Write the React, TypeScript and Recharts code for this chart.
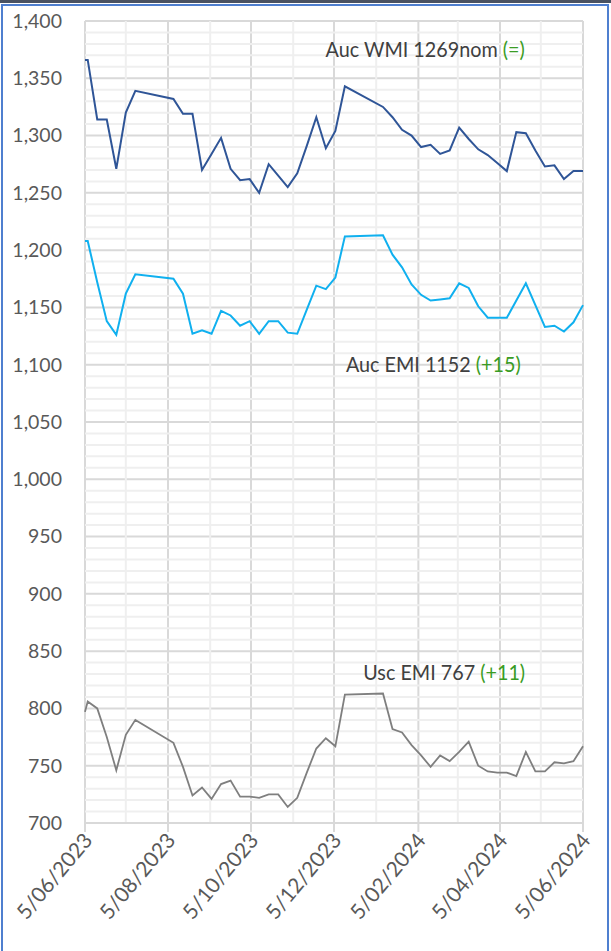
import React from "react";
import {
  LineChart,
  Line,
  XAxis,
  YAxis,
  CartesianGrid,
  ReferenceLine,
  ReferenceDot,
} from "recharts";

// sale dates (weekly auctions, with the winter and xmas recess)
const saleDates = [
  "2023-06-05", "2023-06-07", "2023-06-14", "2023-06-21", "2023-06-28", "2023-07-05", "2023-07-12",
  "2023-08-09", "2023-08-16", "2023-08-23", "2023-08-30", "2023-09-06", "2023-09-13", "2023-09-20",
  "2023-09-27", "2023-10-04", "2023-10-11", "2023-10-18", "2023-10-25", "2023-11-01", "2023-11-08",
  "2023-11-15", "2023-11-22", "2023-11-29", "2023-12-06", "2023-12-13",
  "2024-01-10", "2024-01-17", "2024-01-24", "2024-01-31", "2024-02-07", "2024-02-14", "2024-02-21",
  "2024-02-28", "2024-03-06", "2024-03-13", "2024-03-20", "2024-03-27", "2024-04-03", "2024-04-10",
  "2024-04-17", "2024-04-24", "2024-05-01", "2024-05-08", "2024-05-15", "2024-05-22", "2024-05-29",
  "2024-06-05",
];

const aucWMI = [
  1366, 1366, 1314, 1314, 1271, 1320, 1339,
  1332, 1319, 1319, 1270, 1284, 1298, 1271, 1261, 1262, 1250, 1275, 1265, 1255, 1267, 1291, 1316, 1289, 1304, 1343,
  1325, 1316, 1305, 1300, 1290, 1292, 1284, 1287, 1307, 1297, 1288, 1283, 1276, 1269, 1303, 1302, 1287, 1273, 1274, 1262, 1269, 1269,
];

const aucEMI = [
  1208, 1208, 1172, 1138, 1126, 1162, 1179,
  1175, 1162, 1127, 1130, 1127, 1147, 1143, 1134, 1138, 1127, 1138, 1138, 1128, 1127, 1148, 1169, 1166, 1176, 1212,
  1213, 1196, 1185, 1170, 1161, 1156, 1157, 1158, 1171, 1167, 1151, 1141, 1141, 1141, 1156, 1171, 1152, 1133, 1134, 1129, 1137, 1152,
];

const uscEMI = [
  797, 806, 800, 775, 746, 777, 790,
  770, 749, 724, 731, 721, 734, 737, 723, 723, 722, 725, 725, 714, 722, 744, 765, 774, 767, 812,
  813, 782, 779, 768, 759, 749, 759, 754, 762, 771, 750, 745, 744, 744, 741, 762, 745, 745, 753, 752, 754, 767,
];

const majorTickDates = ["2023-06-05", "2023-08-05", "2023-10-05", "2023-12-05", "2024-02-05", "2024-04-05", "2024-06-05"];
const majorTickLabels = ["5/06/2023", "5/08/2023", "5/10/2023", "5/12/2023", "5/02/2024", "5/04/2024", "5/06/2024"];
const minorTickDates = ["2023-07-05", "2023-09-05", "2023-11-05", "2024-01-05", "2024-03-05", "2024-05-05"];

const yTicks = [700, 750, 800, 850, 900, 950, 1000, 1050, 1100, 1150, 1200, 1250, 1300, 1350, 1400];

const FONT = "Lato, 'Open Sans', sans-serif";
const GREEN = "#3a9c24";

const toDay = (s: string) =>
  (Date.UTC(+s.slice(0, 4), +s.slice(5, 7) - 1, +s.slice(8, 10)) - Date.UTC(2023, 5, 5)) / 86400000;

const data = saleDates.map((d, i) => ({
  day: toDay(d),
  wmi: aucWMI[i],
  emi: aucEMI[i],
  usc: uscEMI[i],
}));

const xTicks = majorTickDates.map(toDay);
const xMinor = minorTickDates.map(toDay);
const yMinor: number[] = [];
yTicks.slice(0, -1).forEach((t) => {
  for (let k = 10; k < 50; k += 10) yMinor.push(t + k);
});

const DateTick = (props: any) => {
  const { x, y, payload } = props;
  const idx = xTicks.indexOf(payload.value);
  return (
    <g transform={`translate(${x + 4},${y + 3})`}>
      <text
        x={0}
        y={0}
        dy={6}
        textAnchor="end"
        transform="rotate(-50)"
        fill="#595959"
        fontSize={21}
        fontFamily={FONT}
      >
        {majorTickLabels[idx]}
      </text>
    </g>
  );
};

const annot = (main: string, change: string) => (props: any) => {
  const { viewBox } = props;
  const cx = viewBox.x + (viewBox.width || 0) / 2;
  const cy = viewBox.y + (viewBox.height || 0) / 2;
  return (
    <g transform={`translate(${cx},${cy}) scale(0.92,1)`}>
      <text x={0} y={0} dy={7} textAnchor="middle" fontSize={21.5} fontFamily={FONT} fill="#404040">
        {main} <tspan fill={GREEN}>{change}</tspan>
      </text>
    </g>
  );
};

export default function App() {
  return (
    <div
      style={{
        position: "absolute",
        left: 0,
        top: 0,
        width: 611,
        height: 951,
        overflow: "hidden",
        background: "#fff",
      }}
    >
      <div style={{ position: "absolute", left: 0, top: 0, width: 611, height: 3, background: "#4a5261" }} />
      <div
        style={{
          position: "absolute",
          left: 1,
          top: 4,
          width: 604,
          height: 960,
          border: "2px solid #4f7fcf",
        }}
      />
      <div style={{ position: "absolute", left: 0, top: 0 }}>
        <LineChart width={611} height={951} data={data} margin={{ top: 21, right: 28, bottom: 0, left: 0 }}>
          {xMinor.map((v) => (
            <ReferenceLine key={"vx" + v} x={v} stroke="#efefef" strokeWidth={2} />
          ))}
          {yMinor.map((v) => (
            <ReferenceLine key={"hy" + v} y={v} stroke="#efefef" strokeWidth={2} />
          ))}
          <CartesianGrid stroke="#d9d9d9" strokeWidth={2} />
          <XAxis
            dataKey="day"
            type="number"
            domain={[0, 366]}
            ticks={xTicks}
            interval={0}
            height={128}
            tick={<DateTick />}
            tickSize={9}
            tickMargin={2}
            tickLine={{ stroke: "#d9d9d9", strokeWidth: 2 }}
            axisLine={{ stroke: "#d9d9d9", strokeWidth: 2 }}
          />
          <YAxis
            type="number"
            domain={[700, 1400]}
            ticks={yTicks}
            interval={0}
            width={85}
            tickSize={0}
            tickMargin={23}
            axisLine={false}
            tickLine={false}
            tickFormatter={(v: number) => v.toLocaleString("en-US")}
            tick={{ fill: "#595959", fontSize: 19.5, fontFamily: FONT }}
          />
          <Line
            type="linear"
            dataKey="wmi"
            stroke="#2f5597"
            strokeWidth={2}
            dot={false}
            isAnimationActive={false}
          />
          <Line
            type="linear"
            dataKey="emi"
            stroke="#10b0ef"
            strokeWidth={2}
            dot={false}
            isAnimationActive={false}
          />
          <Line
            type="linear"
            dataKey="usc"
            stroke="#7f7f7f"
            strokeWidth={1.8}
            dot={false}
            isAnimationActive={false}
          />
          <ReferenceDot x={250} y={1375} r={0} fill="none" stroke="none" label={annot("Auc WMI 1269nom", "(=)")} />
          <ReferenceDot x={256} y={1100} r={0} fill="none" stroke="none" label={annot("Auc EMI 1152", "(+15)")} />
          <ReferenceDot x={264} y={831} r={0} fill="none" stroke="none" label={annot("Usc EMI 767", "(+11)")} />
        </LineChart>
      </div>
    </div>
  );
}
